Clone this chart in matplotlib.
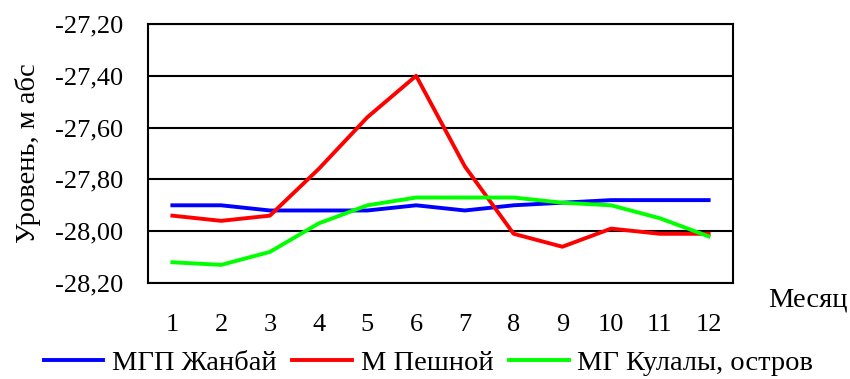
import matplotlib.pyplot as plt
import matplotlib.ticker as mticker

months = [1, 2, 3, 4, 5, 6, 7, 8, 9, 10, 11, 12]
zhanbay = [-27.90, -27.90, -27.92, -27.92, -27.92, -27.90, -27.92, -27.90, -27.89, -27.88, -27.88, -27.88]
peshnoy = [-27.94, -27.96, -27.94, -27.76, -27.56, -27.40, -27.75, -28.01, -28.06, -27.99, -28.01, -28.01]
kulaly = [-28.12, -28.13, -28.08, -27.97, -27.90, -27.87, -27.87, -27.87, -27.89, -27.90, -27.95, -28.02]
labels = ["МГП Жанбай", "М Пешной", "МГ Кулалы, остров"]

plt.rcParams['font.family'] = ['Liberation Serif', 'DejaVu Serif']
fs_tick = 19
fs_text = 20.5

fig = plt.figure(figsize=(8.5, 3.79), dpi=100)
ax = fig.add_axes([148 / 850, 1 - 283 / 379, 585 / 850, 259 / 379])

ax.plot(months, zhanbay, color='#0000ff', lw=2.8, label=labels[0])
ax.plot(months, peshnoy, color='#ff0000', lw=2.8, label=labels[1])
ax.plot(months, kulaly, color='#00ff00', lw=2.8, label=labels[2])

ax.set_xlim(0.5, 12.5)
ax.set_ylim(-28.2, -27.2)
ax.set_xticks(months)
ax.set_yticks([-28.2, -28.0, -27.8, -27.6, -27.4, -27.2])
ax.yaxis.set_major_formatter(mticker.FuncFormatter(lambda v, p: f"{v:.2f}".replace('.', ',')))
ax.tick_params(axis='both', length=0, labelsize=fs_tick)
ax.tick_params(axis='x', pad=22)
ax.tick_params(axis='y', pad=18)
ax.grid(axis='y', color='black', lw=1.5)
for s in ax.spines.values():
    s.set_linewidth(1.5)
    s.set_color('black')

ax.set_ylabel("Уровень, м абс", fontsize=fs_text, labelpad=10)
fig.text(808 / 850, 1 - 300 / 379, "Месяц", fontsize=fs_text, ha='center', va='center')

fig.legend(loc='center', bbox_to_anchor=(0.504, 1 - 363 / 379), ncol=3, frameon=False,
           fontsize=fs_text, handlelength=2.1, handletextpad=0.3, columnspacing=0.55, borderpad=0)

plt.savefig("out.png", dpi=100)
plt.close()
